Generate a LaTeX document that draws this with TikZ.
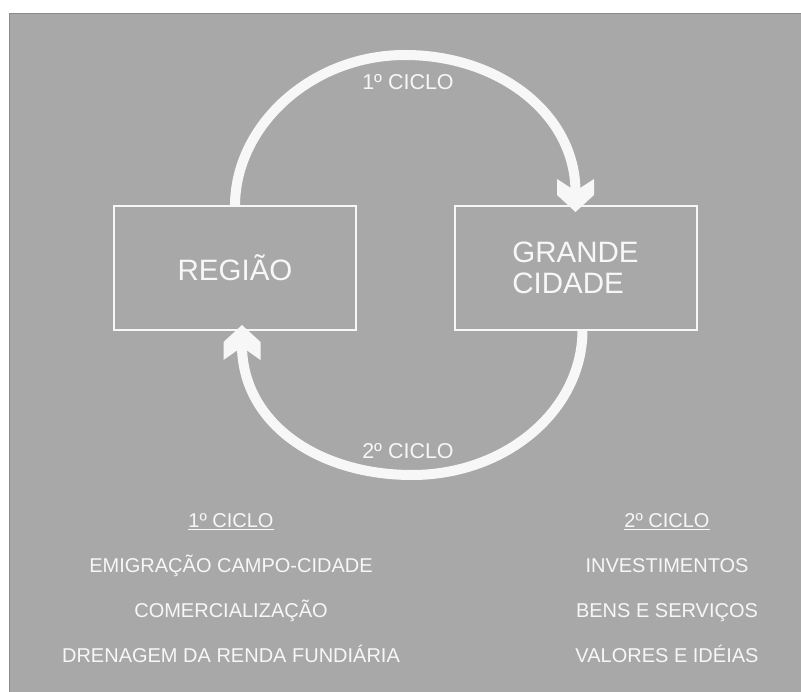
\documentclass[tikz,border=0pt]{standalone}
\usepackage{fontspec}
\setmainfont{Liberation Sans}
\definecolor{bg}{HTML}{A8A8A8}
\definecolor{fg}{HTML}{F7F7F7}
\definecolor{edge}{HTML}{8A8A8A}
\begin{document}
\begin{tikzpicture}[x=1pt,y=-1pt,
  box/.style={draw=fg, line width=2pt, minimum width=242pt, minimum height=124pt, inner sep=0pt, text=fg, font=\fontsize{29.5}{31}\selectfont, align=left},
  flow/.style={draw=fg, line width=10pt},
  lbl/.style={text=fg, anchor=base, inner sep=0pt},
  big/.style={font=\fontsize{21.5}{24}\selectfont},
  small/.style={font=\fontsize{20}{24}\selectfont}]
\useasboundingbox (0,0) rectangle (801,692);
\fill[white] (0,0) rectangle (801,692);
\fill[bg] (9,13) rectangle (801,692);
\draw[edge, line width=1pt] (9.5,692) -- (9.5,13.5) -- (801,13.5);

\node[box] (reg) at (235,268) {REGIÃO};
\node[box] (gc) at (575.5,268) {GRANDE\\CIDADE};

% 1st cycle arc
\coordinate (t1) at (405,55);
\coordinate (tip1) at ([yshift=-7pt]gc.north);
\draw[flow] ([yshift=-1pt]reg.north) .. controls +(0,-80) and +(-94,0) .. (t1)
  .. controls +(94,0) and +(0,-78) .. ([yshift=20pt]tip1);
\fill[fg] (tip1) -- +(-18.5,-17) -- +(-18.5,-33) -- +(0,-21) -- +(18.5,-33) -- +(18.5,-17) -- cycle;

% 2nd cycle arc
\coordinate (b1) at (412,475);
\coordinate (tip2) at ([xshift=7pt,yshift=6pt]reg.south);
\draw[flow] ([xshift=7pt,yshift=1pt]gc.south) .. controls +(0,80) and +(94,0) .. (b1)
  .. controls +(-94,0) and +(0,78) .. ([yshift=-20pt]tip2);
\fill[fg] (tip2) -- +(-18.5,17) -- +(-18.5,35) -- +(0,22) -- +(18.5,35) -- +(18.5,17) -- cycle;

\node[lbl,big] (c1) at (408,90) {1º CICLO};
\node[lbl,big] (c2) at (408,459) {2º CICLO};

\node[lbl,small] (h1) at (231,527) {1º CICLO};
\draw[fg, line width=1.3pt] ([yshift=-2.5pt]h1.base west) -- ([yshift=-2.5pt]h1.base east);
\node[lbl,small] (l1) at (231,572) {EMIGRAÇÃO CAMPO-CIDADE};
\node[lbl,small] (l2) at (231,617) {COMERCIALIZAÇÃO};
\node[lbl,small] (l3) at (231,662) {DRENAGEM DA RENDA FUNDIÁRIA};

\node[lbl,small] (h2) at (667,527) {2º CICLO};
\draw[fg, line width=1.3pt] ([yshift=-2.5pt]h2.base west) -- ([yshift=-2.5pt]h2.base east);
\node[lbl,small] (r1) at (667,572) {INVESTIMENTOS};
\node[lbl,small] (r2) at (667,617) {BENS E SERVIÇOS};
\node[lbl,small] (r3) at (667,662) {VALORES E IDÉIAS};
\end{tikzpicture}
\end{document}
